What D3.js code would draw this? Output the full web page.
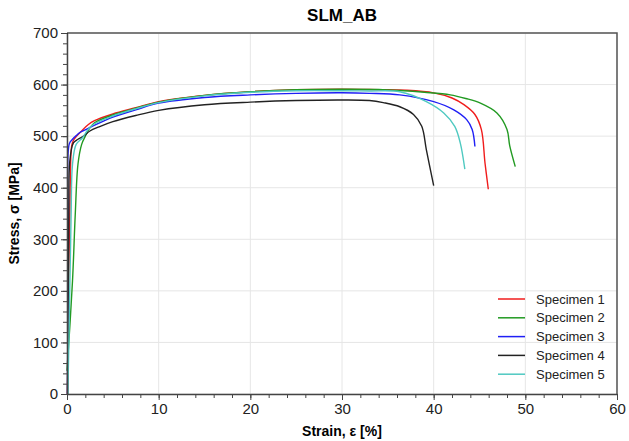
<!DOCTYPE html>
<html>
<head>
<meta charset="utf-8">
<script src="https://cdn.jsdelivr.net/npm/d3@7"></script>
<style>
  body { margin: 0; background: #fff; }
  svg { font-family: "Liberation Sans", Arial, sans-serif; }
</style>
</head>
<body>
<div id="chart"></div>
<script>
// [strain %, stress MPa]
const specimen1 = [[0.05,0],[0.35,400],[0.5,480],[0.7,492],[1.05,500],[1.6,510],[2.3,522],[3,530],[5,543],[7.5,555],[10,567],[15,579],[20,586],[25,590],[30,591],[34,590],[37,589],[40,584],[42,574],[43.3,561],[44.5,542],[45.2,513],[45.6,448],[45.96,397]];
const specimen2 = [[0,45],[0.6,219],[0.9,348],[1.2,446],[1.6,484],[2.0,500],[2.5,516],[3,526],[5,541],[7.5,554],[10,566],[15,579],[20,586],[25,590],[30,591],[34,590.5],[36.3,588.5],[39,585],[41.8,580],[43.5,573],[45.1,564],[46.9,545],[48.0,513],[48.3,481],[48.9,441]];
const specimen3 = [[0.05,0],[0.15,300],[0.25,485],[0.6,494],[1.0,501],[1.4,507],[2.1,513],[3.2,523],[5,537],[7.5,551],[10,564],[15,575],[20,580],[25,583],[30,584],[33,583],[36.3,580],[40,567],[42.2,551],[43.6,532],[44.2,513],[44.5,480]];
const specimen4 = [[0.05,0],[0.2,350],[0.3,450],[0.7,487],[1.2,494],[1.8,500],[2.5,510],[3.5,518],[5,528],[7.5,540],[10,550],[15,561],[20,566],[25,569],[30,570],[33,569],[34.5,565],[36.3,557],[37.8,542],[38.7,519],[39.2,474],[40,404]];
const specimen5 = [[0.1,0],[0.3,200],[0.45,348],[0.6,445],[1.0,484],[1.7,497],[2.3,513],[3,524],[5,539],[7.5,553],[10,565],[15,578],[20,585],[25,588],[30,588],[33,587.5],[36.3,586],[39.2,567],[41.1,545],[42.3,519],[42.9,487],[43.4,436]];

const seriesNames = ["Specimen 1", "Specimen 2", "Specimen 3", "Specimen 4", "Specimen 5"];
const seriesData = [specimen1, specimen2, specimen3, specimen4, specimen5];
const colors = ["#f01c1c", "#229a22", "#1f1ff5", "#222222", "#4fc9c1"];

const xTicks = [0, 10, 20, 30, 40, 50, 60];
const yTicks = [0, 100, 200, 300, 400, 500, 600, 700];

const width = 629, height = 441;
const margin = { top: 33, right: 12, bottom: 47, left: 67 };

const svg = d3.select("#chart").append("svg")
  .attr("width", width)
  .attr("height", height);

const x = d3.scaleLinear().domain([0, 60]).range([margin.left, width - margin.right]);
const y = d3.scaleLinear().domain([0, 700]).range([height - margin.bottom, margin.top]);

// grid
svg.append("g").selectAll("line").data(xTicks).join("line")
  .attr("x1", d => x(d)).attr("x2", d => x(d))
  .attr("y1", y(0)).attr("y2", y(700))
  .attr("stroke", "#e6e6e6");
svg.append("g").selectAll("line").data(yTicks).join("line")
  .attr("x1", x(0)).attr("x2", x(60))
  .attr("y1", d => y(d)).attr("y2", d => y(d))
  .attr("stroke", "#e6e6e6");

// curves
const line = d3.line()
  .x(d => x(d[0]))
  .y(d => y(d[1]))
  .curve(d3.curveCatmullRom.alpha(0.5));

svg.append("g").selectAll("path").data(seriesData).join("path")
  .attr("d", line)
  .attr("fill", "none")
  .attr("stroke", (d, i) => colors[i])
  .attr("stroke-width", 1.4);

// frame top/right
svg.append("path")
  .attr("d", `M${x(0)},${y(700)}H${x(60)}V${y(0)}`)
  .attr("fill", "none")
  .attr("stroke", "#555")
  .attr("stroke-width", 1.5);

// minor ticks
const xAxisMinor = d3.axisBottom(x).tickValues(d3.range(0, 61, 2)).tickSize(4).tickFormat("");
const yAxisMinor = d3.axisLeft(y).tickValues(d3.range(0, 701, 20)).tickSize(4).tickFormat("");

svg.append("g").attr("transform", `translate(0,${y(0)})`).call(xAxisMinor)
  .call(g => g.selectAll("line").attr("stroke", "#444"));
svg.append("g").attr("transform", `translate(${x(0)},0)`).call(yAxisMinor)
  .call(g => g.selectAll("line").attr("stroke", "#444"));

// major axes
const xAxis = svg.append("g")
  .attr("transform", `translate(0,${y(0)})`)
  .call(d3.axisBottom(x).tickValues(xTicks).tickSize(6).tickSizeOuter(0).tickPadding(3));
const yAxis = svg.append("g")
  .attr("transform", `translate(${x(0)},0)`)
  .call(d3.axisLeft(y).tickValues(yTicks).tickSize(6).tickSizeOuter(0).tickPadding(3));

[xAxis, yAxis].forEach(g => {
  g.select(".domain").attr("stroke", "#444").attr("stroke-width", 1.5);
  g.selectAll("line").attr("stroke", "#444");
  g.selectAll("text").attr("font-size", 15).attr("fill", "#222")
    .attr("font-family", "Liberation Sans, Arial, sans-serif");
});

// title and labels
svg.append("text")
  .attr("x", (x(0) + x(60)) / 2).attr("y", 21)
  .attr("text-anchor", "middle")
  .attr("font-size", 17).attr("font-weight", "bold")
  .text("SLM_AB");

svg.append("text")
  .attr("x", (x(0) + x(60)) / 2).attr("y", 436)
  .attr("text-anchor", "middle")
  .attr("font-size", 14).attr("font-weight", "bold")
  .text("Strain, ε [%]");

svg.append("text")
  .attr("transform", `translate(19,${(y(0) + y(700)) / 2}) rotate(-90)`)
  .attr("text-anchor", "middle")
  .attr("font-size", 14).attr("font-weight", "bold")
  .text("Stress, σ [MPa]");

// legend
const legend = svg.append("g").attr("transform", "translate(498,299)");
const item = legend.selectAll("g").data(seriesNames).join("g")
  .attr("transform", (d, i) => `translate(0,${i * 18.8})`);
item.append("line")
  .attr("x1", 0).attr("x2", 27)
  .attr("stroke", (d, i) => colors[i])
  .attr("stroke-width", 1.5);
item.append("text")
  .attr("x", 38).attr("y", 4.5)
  .attr("font-size", 13).attr("fill", "#222")
  .text(d => d);
</script>
</body>
</html>
